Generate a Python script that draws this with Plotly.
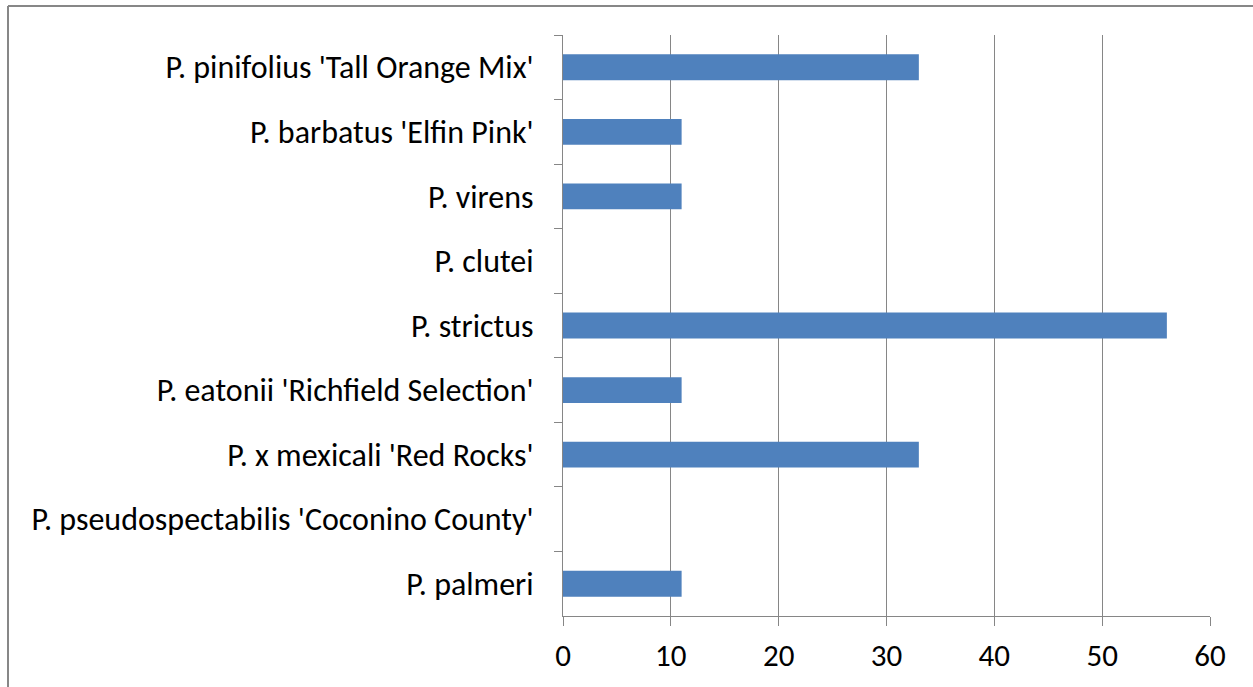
import plotly.graph_objects as go

categories = [
    "P. pinifolius 'Tall Orange Mix'",
    "P. barbatus 'Elfin Pink'",
    "P. virens",
    "P. clutei",
    "P. strictus",
    "P. eatonii 'Richfield Selection'",
    "P. x mexicali 'Red Rocks'",
    "P. pseudospectabilis 'Coconino County'",
    "P. palmeri",
]
values = [33, 11, 11, 0, 56, 11, 33, 0, 11]
x_ticks = [0, 10, 20, 30, 40, 50, 60]

W, H = 1253, 687
L, R, T, B = 563, 43, 35, 71
pw, ph = W - L - R, H - T - B

FONT = "Carlito, Calibri, Lato, sans-serif"
GREY = "#868686"

fig = go.Figure(go.Bar(
    x=values, y=categories, orientation="h",
    marker=dict(color="#4F81BD", line=dict(width=0)),
    width=0.4,
))

def px_x(p):
    return (p - L) / pw

def px_y(p):
    return (H - B - p) / ph

fig.update_layout(
    width=W, height=H,
    margin=dict(l=L, r=R, t=T, b=B, autoexpand=False),
    paper_bgcolor="white", plot_bgcolor="white",
    font=dict(family=FONT, size=32, color="#000000"),
    showlegend=False,
    xaxis=dict(
        range=[0, 60], tickvals=x_ticks, ticks="outside", ticklen=9,
        tickcolor=GREY, showgrid=True, gridcolor=GREY, gridwidth=1,
        showline=True, linecolor=GREY, linewidth=1, zeroline=False,
        tickfont=dict(family=FONT, size=31, color="#000000"),
        ticklabelstandoff=3,
    ),
    yaxis=dict(
        categoryorder="array", categoryarray=categories,
        autorange="reversed", ticks="outside", tickson="boundaries",
        ticklen=8, tickcolor=GREY, showline=True, linecolor=GREY,
        linewidth=1, showgrid=False, zeroline=False,
        tickfont=dict(family=FONT, size=32, color="#000000"),
        ticklabelstandoff=22,
    ),
    shapes=[
        dict(type="line", xref="paper", yref="paper",
             x0=px_x(8), x1=px_x(8), y0=px_y(6), y1=px_y(700),
             line=dict(color="#878787", width=2)),
        dict(type="line", xref="paper", yref="paper",
             x0=px_x(8), x1=px_x(1260), y0=px_y(6), y1=px_y(6),
             line=dict(color="#878787", width=2)),
    ],
)

fig.write_html("out.html")
